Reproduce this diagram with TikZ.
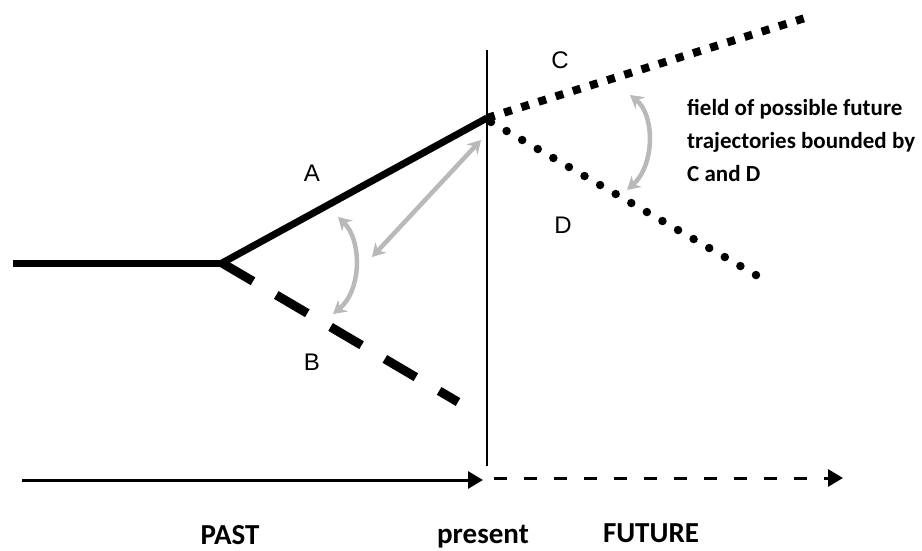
\documentclass[tikz,border=0pt]{standalone}
\usepackage{fontspec}
\setmainfont{Carlito}
\newfontfamily\labfont{Liberation Sans}
\usetikzlibrary{arrows.meta}
\tikzset{
  solidpath/.style={line width=7pt, line cap=butt, black},
  dashpath/.style={line width=9pt, dash pattern=on 36pt off 27pt, black},
  squaredots/.style={line width=8pt, dash pattern=on 8pt off 10pt, black},
  rounddots/.style={line width=8.5pt, line cap=round, dash pattern=on 0pt off 18pt, black},
  grayarrow/.style={line width=4.5pt, gray!55, {Stealth[length=13pt,width=15pt]}-{Stealth[length=13pt,width=15pt]}},
  letter/.style={font=\labfont\fontsize{24}{27}\selectfont, inner sep=0pt},
  axislabel/.style={font=\bfseries\fontsize{29}{34}\selectfont, inner sep=0pt, anchor=base},
  note/.style={font=\bfseries\fontsize{23}{33}\selectfont, inner sep=0pt, align=left, anchor=west}
}
\begin{document}
\begin{tikzpicture}[x=1pt,y=-1pt]
\useasboundingbox (0,0) rectangle (922,550);
% key points
\coordinate (start) at (13,263);
\coordinate (fork) at (222,263);
\coordinate (now) at (487,118);
\coordinate (bend) at (458,402);
\coordinate (cend) at (805,18);
\coordinate (dend) at (768,282);
\coordinate (vtop) at (487,50);
\coordinate (vbot) at (487,466);
\coordinate (pstart) at (22,480);
\coordinate (ptip) at (483,480);
\coordinate (fstart) at (494,478);
\coordinate (ftip) at (843,478);
% vertical present line
\draw[line width=1.6pt] (vtop) -- (vbot);
% trajectories
\draw[solidpath] (start) -- (fork);
\draw[solidpath, line join=round] (fork) -- (now);
\draw[dashpath] (fork) -- (bend);
\draw[squaredots] (now) -- (cend);
\draw[rounddots] ([shift={(4,4)}]now) -- (dend);
% gray arrows
\coordinate (g1a) at (372,257);
\coordinate (g1b) at (481,140);
\draw[grayarrow] (g1a) -- (g1b);
\coordinate (g2a) at (338,217);
\coordinate (g2b) at (333,314);
\draw[grayarrow] (g2a) .. controls (362,240) and (362,290) .. (g2b);
\coordinate (g3a) at (630,95);
\coordinate (g3b) at (627,190);
\draw[grayarrow] (g3a) .. controls (655,115) and (655,165) .. (g3b);
% labels
\node[letter] (la) at (312,173) {A};
\node[letter] (lb) at (312,362) {B};
\node[letter] (lc) at (560,60) {C};
\node[letter] (ld) at (563,225) {D};
\node[note] (field) at (687,140) {field of possible future\\trajectories bounded by\\C and D};
% time axis
\draw[line width=3pt, -{Triangle[length=15pt,width=17pt]}] (pstart) -- (ptip);
\draw[line width=3pt, dash pattern=on 13pt off 17pt, -{Triangle[length=15pt,width=17pt]}] (fstart) -- (ftip);
\node[axislabel] (past) at (230,544) {PAST};
\node[axislabel] (present) at (483,543) {present};
\node[axislabel] (future) at (651,542) {FUTURE};
\end{tikzpicture}
\end{document}
